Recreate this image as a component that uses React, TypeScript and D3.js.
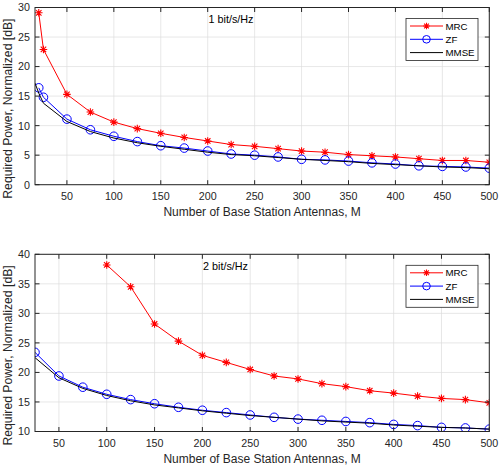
import React, { useRef, useEffect } from "react";
import * as d3 from "d3";

// antenna counts
const antennasTop = [20, 25, 50, 75, 100, 125, 150, 175, 200, 225, 250, 275, 300, 325, 350, 375, 400, 425, 450, 475, 500];
const antennasTopMmse = [16, ...antennasTop];
const antennasBottom = [25, 50, 75, 100, 125, 150, 175, 200, 225, 250, 275, 300, 325, 350, 375, 400, 425, 450, 475, 500];
const antennasBottomMrc = [100, 125, 150, 175, 200, 225, 250, 275, 300, 325, 350, 375, 400, 425, 450, 475, 500];

// 1 bit/s/Hz
const mrc1 = [29.1, 22.9, 15.3, 12.3, 10.6, 9.5, 8.7, 8.0, 7.4, 6.8, 6.5, 6.1, 5.7, 5.5, 5.1, 4.9, 4.7, 4.4, 4.1, 4.1, 3.8];
const zf1 = [16.4, 14.8, 11.1, 9.3, 8.2, 7.3, 6.6, 6.2, 5.7, 5.2, 5.0, 4.7, 4.3, 4.2, 4.0, 3.7, 3.5, 3.2, 3.1, 3.0, 2.8];
const mmse1 = [17.2, 15.5, 13.8, 10.7, 9.0, 7.9, 7.1, 6.5, 6.0, 5.5, 5.1, 4.9, 4.6, 4.3, 4.1, 3.9, 3.6, 3.4, 3.2, 3.0, 2.9, 2.7];

// 2 bit/s/Hz
const mrc2 = [38.2, 34.5, 28.2, 25.3, 22.9, 21.7, 20.5, 19.4, 18.9, 18.1, 17.6, 16.9, 16.5, 16.0, 15.6, 15.4, 14.85];
const zf2 = [23.4, 19.4, 17.5, 16.3, 15.4, 14.7, 14.1, 13.6, 13.2, 12.8, 12.4, 12.1, 11.9, 11.7, 11.5, 11.2, 11.0, 10.7, 10.6, 10.4];
const mmse2 = [22.5, 19.1, 17.3, 16.1, 15.2, 14.5, 14.0, 13.5, 13.1, 12.7, 12.4, 12.1, 11.8, 11.6, 11.4, 11.1, 10.9, 10.7, 10.6, 10.4];

const xTicks = [50, 100, 150, 200, 250, 300, 350, 400, 450, 500];
const yTicksTop = [0, 5, 10, 15, 20, 25, 30];
const yTicksBottom = [10, 15, 20, 25, 30, 35, 40];
const legendNames = ["MRC", "ZF", "MMSE"];

const panels = [
  {
    top: 7.5, bottom: 184.7, xDomain: [16, 500], yDomain: [0, 30], yTicks: yTicksTop,
    note: "1 bit/s/Hz", noteX: 208.5, noteY: 23,
    mrc: { x: antennasTop, y: mrc1 }, zf: { x: antennasTop, y: zf1 }, mmse: { x: antennasTopMmse, y: mmse1 },
  },
  {
    top: 254.3, bottom: 431.5, xDomain: [25, 500], yDomain: [10, 40], yTicks: yTicksBottom,
    note: "2 bit/s/Hz", noteX: 203, noteY: 270,
    mrc: { x: antennasBottomMrc, y: mrc2 }, zf: { x: antennasBottom, y: zf2 }, mmse: { x: antennasBottom, y: mmse2 },
  },
];

const LEFT = 35;
const RIGHT = 489.3;
const AX = "#262626";
const FONT = "'Liberation Sans', Arial, sans-serif";

function star(g, cx, cy, r, color) {
  const d = r * 0.72;
  const p = `M${cx - r},${cy}L${cx + r},${cy}M${cx},${cy - r}L${cx},${cy + r}` +
    `M${cx - d},${cy - d}L${cx + d},${cy + d}M${cx - d},${cy + d}L${cx + d},${cy - d}`;
  g.append("path").attr("d", p).attr("stroke", color).attr("stroke-width", 1.1).attr("fill", "none");
}

const App = () => {
  const ref = useRef(null);

  useEffect(() => {
    const svg = d3.select(ref.current);
    svg.selectAll("*").remove();

    panels.forEach((p) => {
      const x = d3.scaleLinear().domain(p.xDomain).range([LEFT, RIGHT]);
      const y = d3.scaleLinear().domain(p.yDomain).range([p.bottom, p.top]);
      const g = svg.append("g");

      // background + grid
      g.append("rect").attr("x", LEFT).attr("y", p.top).attr("width", RIGHT - LEFT).attr("height", p.bottom - p.top).attr("fill", "#fff");
      xTicks.forEach((t) => {
        g.append("line").attr("x1", x(t)).attr("x2", x(t)).attr("y1", p.top).attr("y2", p.bottom).attr("stroke", "#dcdcdc").attr("stroke-width", 0.7);
      });
      p.yTicks.forEach((t) => {
        g.append("line").attr("x1", LEFT).attr("x2", RIGHT).attr("y1", y(t)).attr("y2", y(t)).attr("stroke", "#dcdcdc").attr("stroke-width", 0.7);
      });

      // series
      const line = (xs, ys) => d3.line().x((d) => x(d[0])).y((d) => y(d[1]))(xs.map((v, i) => [v, ys[i]]));
      const clip = `clip${p.top}`;
      svg.append("clipPath").attr("id", clip).append("rect").attr("x", LEFT).attr("y", p.top).attr("width", RIGHT - LEFT).attr("height", p.bottom - p.top);
      const s = g.append("g").attr("clip-path", `url(#${clip})`);

      s.append("path").attr("d", line(p.mrc.x, p.mrc.y)).attr("fill", "none").attr("stroke", "#ff0000").attr("stroke-width", 1);
      p.mrc.x.forEach((v, i) => star(s, x(v), y(p.mrc.y[i]), 3.8, "#ff0000"));

      s.append("path").attr("d", line(p.zf.x, p.zf.y)).attr("fill", "none").attr("stroke", "#0000ff").attr("stroke-width", 1);
      p.zf.x.forEach((v, i) => {
        s.append("circle").attr("cx", x(v)).attr("cy", y(p.zf.y[i])).attr("r", 4.3).attr("fill", "none").attr("stroke", "#0000ff").attr("stroke-width", 1);
      });

      s.append("path").attr("d", line(p.mmse.x, p.mmse.y)).attr("fill", "none").attr("stroke", "#000").attr("stroke-width", 1);

      // axes box with inward ticks
      g.append("rect").attr("x", LEFT).attr("y", p.top).attr("width", RIGHT - LEFT).attr("height", p.bottom - p.top)
        .attr("fill", "none").attr("stroke", AX).attr("stroke-width", 1);
      xTicks.forEach((t) => {
        g.append("line").attr("x1", x(t)).attr("x2", x(t)).attr("y1", p.bottom).attr("y2", p.bottom - 4.5).attr("stroke", AX);
        g.append("line").attr("x1", x(t)).attr("x2", x(t)).attr("y1", p.top).attr("y2", p.top + 4.5).attr("stroke", AX);
        g.append("text").attr("x", x(t)).attr("y", p.bottom + 15.5).attr("text-anchor", "middle")
          .attr("font-family", FONT).attr("font-size", 10.7).attr("fill", AX).text(t);
      });
      p.yTicks.forEach((t) => {
        g.append("line").attr("x1", LEFT).attr("x2", LEFT + 4.5).attr("y1", y(t)).attr("y2", y(t)).attr("stroke", AX);
        g.append("line").attr("x1", RIGHT).attr("x2", RIGHT - 4.5).attr("y1", y(t)).attr("y2", y(t)).attr("stroke", AX);
        g.append("text").attr("x", LEFT - 5).attr("y", y(t) + 3.9).attr("text-anchor", "end")
          .attr("font-family", FONT).attr("font-size", 10.7).attr("fill", AX).text(t);
      });

      // axis labels
      g.append("text").attr("x", (LEFT + RIGHT) / 2).attr("y", p.bottom + 31).attr("text-anchor", "middle")
        .attr("font-family", FONT).attr("font-size", 12).attr("fill", AX).text("Number of Base Station Antennas, M");
      g.append("text").attr("transform", `translate(11.5,${(p.top + p.bottom) / 2 + 12.5}) rotate(-90)`).attr("text-anchor", "middle")
        .attr("font-family", FONT).attr("font-size", 12.2).attr("fill", AX).text("Required Power, Normalized [dB]");

      g.append("text").attr("x", p.noteX).attr("y", p.noteY).attr("font-family", FONT).attr("font-size", 10.8).attr("fill", "#000").text(p.note);

      // legend
      const lx = 406, ly = p.top + 11, lw = 72, lh = 42;
      const lg = g.append("g");
      lg.append("rect").attr("x", lx).attr("y", ly).attr("width", lw).attr("height", lh).attr("fill", "#fff").attr("stroke", AX).attr("stroke-width", 0.8);
      const colors = ["#ff0000", "#0000ff", "#000"];
      legendNames.forEach((name, i) => {
        const cy = ly + 7.5 + i * 13.3;
        lg.append("line").attr("x1", lx + 4).attr("x2", lx + 37).attr("y1", cy).attr("y2", cy).attr("stroke", colors[i]).attr("stroke-width", 1);
        if (i === 0) star(lg, lx + 20.5, cy, 3.3, colors[i]);
        if (i === 1) lg.append("circle").attr("cx", lx + 20.5).attr("cy", cy).attr("r", 3.8).attr("fill", "none").attr("stroke", colors[i]);
        lg.append("text").attr("x", lx + 39.5).attr("y", cy + 3.6).attr("font-family", FONT).attr("font-size", 9.7).attr("fill", "#000").text(name);
      });
    });
  }, []);

  return (
    <svg ref={ref} width={500} height={466} style={{ position: "absolute", left: 0, top: 0, background: "#fff" }} />
  );
};

export default App;
